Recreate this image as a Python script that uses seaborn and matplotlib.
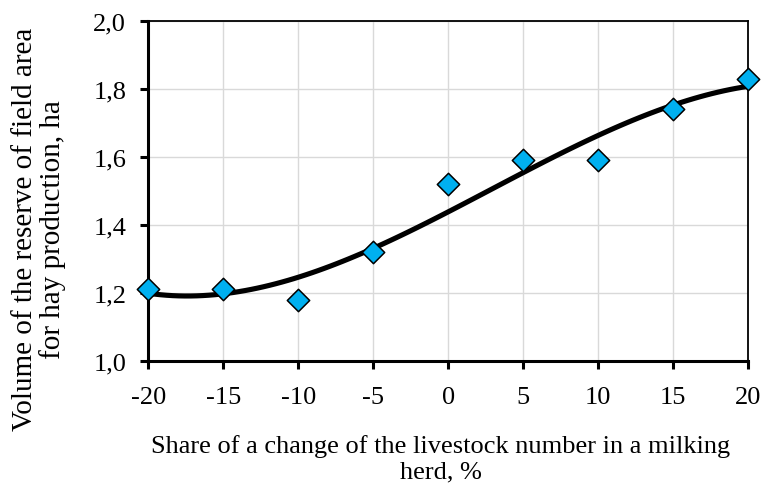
import numpy as np
import pandas as pd
import matplotlib
matplotlib.use('Agg')
import matplotlib.pyplot as plt
import seaborn as sns
from matplotlib.ticker import FuncFormatter

# data
share_change = [-20, -15, -10, -5, 0, 5, 10, 15, 20]
field_reserve = [1.21, 1.21, 1.18, 1.32, 1.52, 1.59, 1.59, 1.74, 1.83]

df = pd.DataFrame({'x': share_change, 'y': field_reserve})

sns.set_theme(style='white')
plt.rcParams['font.family'] = ['Liberation Serif', 'DejaVu Serif']
plt.rcParams['axes.unicode_minus'] = False
plt.rcParams['text.color'] = 'black'
plt.rcParams['axes.labelcolor'] = 'black'

fig, ax = plt.subplots(figsize=(7.65, 4.89), dpi=100)

# cubic trend line (like the spreadsheet polynomial trendline)
sns.regplot(data=df, x='x', y='y', order=3, ci=None, scatter=False,
            truncate=True, line_kws={'color': 'black', 'lw': 3.7, 'zorder': 3}, ax=ax)
sns.scatterplot(data=df, x='x', y='y', marker='D', s=130, color='#00B0F0',
                edgecolor='black', linewidth=1.1, zorder=4, ax=ax, clip_on=False)

ax.set_xlim(-20, 20)
ax.set_ylim(1.0, 2.0)
ax.set_xticks(share_change)
ax.set_yticks(np.arange(1.0, 2.01, 0.2))
ax.yaxis.set_major_formatter(FuncFormatter(lambda v, p: f'{v:.1f}'.replace('.', ',')))

ax.grid(True, color='#d9d9d9', lw=1.0)
ax.set_axisbelow(True)

for side in ['left', 'bottom']:
    ax.spines[side].set_linewidth(2.2)
    ax.spines[side].set_color('black')
for side in ['top', 'right']:
    ax.spines[side].set_linewidth(1.3)
    ax.spines[side].set_color('black')

ax.tick_params(axis='both', which='major', labelsize=19, colors='black',
               direction='out', length=6, width=2.2, left=True, bottom=True)
ax.tick_params(axis='x', pad=12)
ax.tick_params(axis='y', pad=10)

ax.set_xlabel('Share of a change of the livestock number in a milking\nherd, %',
              fontsize=19, linespacing=1.2, color='black')
ax.set_ylabel('Volume of the reserve of field area\nfor hay production, ha',
              fontsize=21, linespacing=1.02, color='black')
ax.xaxis.set_label_coords(0.487, -0.215)
ax.yaxis.set_label_coords(-0.138, 0.39)

fig.subplots_adjust(left=0.194, right=0.978, top=0.955, bottom=0.26)
fig.savefig('out.png', dpi=100)
